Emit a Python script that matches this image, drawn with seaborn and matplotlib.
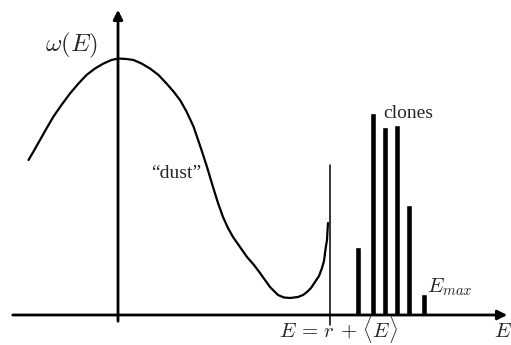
import numpy as np
import pandas as pd
import seaborn as sns
import matplotlib.pyplot as plt

# density of states curve omega(E)
curve_E = [-1.79, -1.69, -1.56, -1.43, -1.29, -1.13, -0.96, -0.79, -0.63, -0.46,
           -0.29, -0.13, 0.00, 0.17, 0.31, 0.47, 0.64, 0.81, 0.97, 1.11,
           1.24, 1.37, 1.51, 1.67, 1.78, 1.90, 2.00, 2.10, 2.20, 2.30,
           2.44, 2.58, 2.72, 2.84, 2.94, 3.04, 3.12, 3.20, 3.32, 3.44,
           3.60, 3.70, 3.78, 3.86, 3.94, 4.02, 4.08, 4.12, 4.14, 4.16,
           4.18, 4.19, 4.20]
curve_w = [3.10, 3.27, 3.50, 3.73, 3.97, 4.20, 4.43, 4.63, 4.80, 4.93,
           5.03, 5.10, 5.13, 5.12, 5.10, 5.03, 4.93, 4.80, 4.63, 4.47,
           4.30, 4.07, 3.77, 3.30, 2.96, 2.56, 2.24, 1.96, 1.74, 1.56,
           1.36, 1.16, 1.00, 0.84, 0.70, 0.56, 0.48, 0.40, 0.35, 0.34,
           0.36, 0.40, 0.46, 0.54, 0.66, 0.78, 0.94, 1.08, 1.24, 1.38,
           1.50, 1.68, 1.84]

# clone bars
bar_E = [4.80, 5.10, 5.34, 5.58, 5.82, 6.12]
bar_h = [1.36, 4.04, 3.76, 3.80, 2.20, 0.42]

# marker line E = r + <E>
mark_E = 4.24
mark_lo, mark_hi = -0.20, 3.00

df = pd.DataFrame({"E": curve_E, "w": curve_w})

sns.set_style("white")
plt.rcParams["mathtext.fontset"] = "cm"

fig = plt.figure(figsize=(5.11, 3.45), dpi=100)
ax = fig.add_axes([0, 0, 1, 1])
ax.set_xlim(-2.36, 7.86)
ax.set_ylim(-0.6, 6.3)
ax.axis("off")

# axes with arrow heads
ax.annotate("", xy=(7.84, 0), xytext=(-2.16, 0),
            arrowprops=dict(arrowstyle="-|>", lw=2, color="black", mutation_scale=14))
ax.annotate("", xy=(0, 6.16), xytext=(0, -0.18),
            arrowprops=dict(arrowstyle="-|>", lw=2, color="black", mutation_scale=14))

sns.lineplot(data=df, x="E", y="w", sort=False, color="black", lw=1.6, ax=ax)

ax.bar(bar_E, bar_h, width=0.105, color="black")

ax.plot([mark_E, mark_E], [mark_lo, mark_hi], color="black", lw=1.1)

# labels
ax.text(-0.94, 5.40, r"$\omega(E)$", fontsize=18, ha="center", va="center")
ax.text(1.16, 2.84, "\u201cdust\u201d", fontsize=14, family="Liberation Serif",
        ha="center", va="center")
ax.text(5.30, 3.94, "clones", fontsize=14, family="Liberation Serif",
        ha="left", va="baseline")
ax.text(6.18, 0.46, r"$E_{max}$", fontsize=15, ha="left", va="baseline")
ax.text(4.40, -0.44, r"$E\,=\,r\,+\,\langle E\rangle$", fontsize=15, ha="center", va="baseline")
ax.text(7.52, -0.44, r"$E$", fontsize=15, ha="left", va="baseline")

plt.savefig("out.png", dpi=100)
